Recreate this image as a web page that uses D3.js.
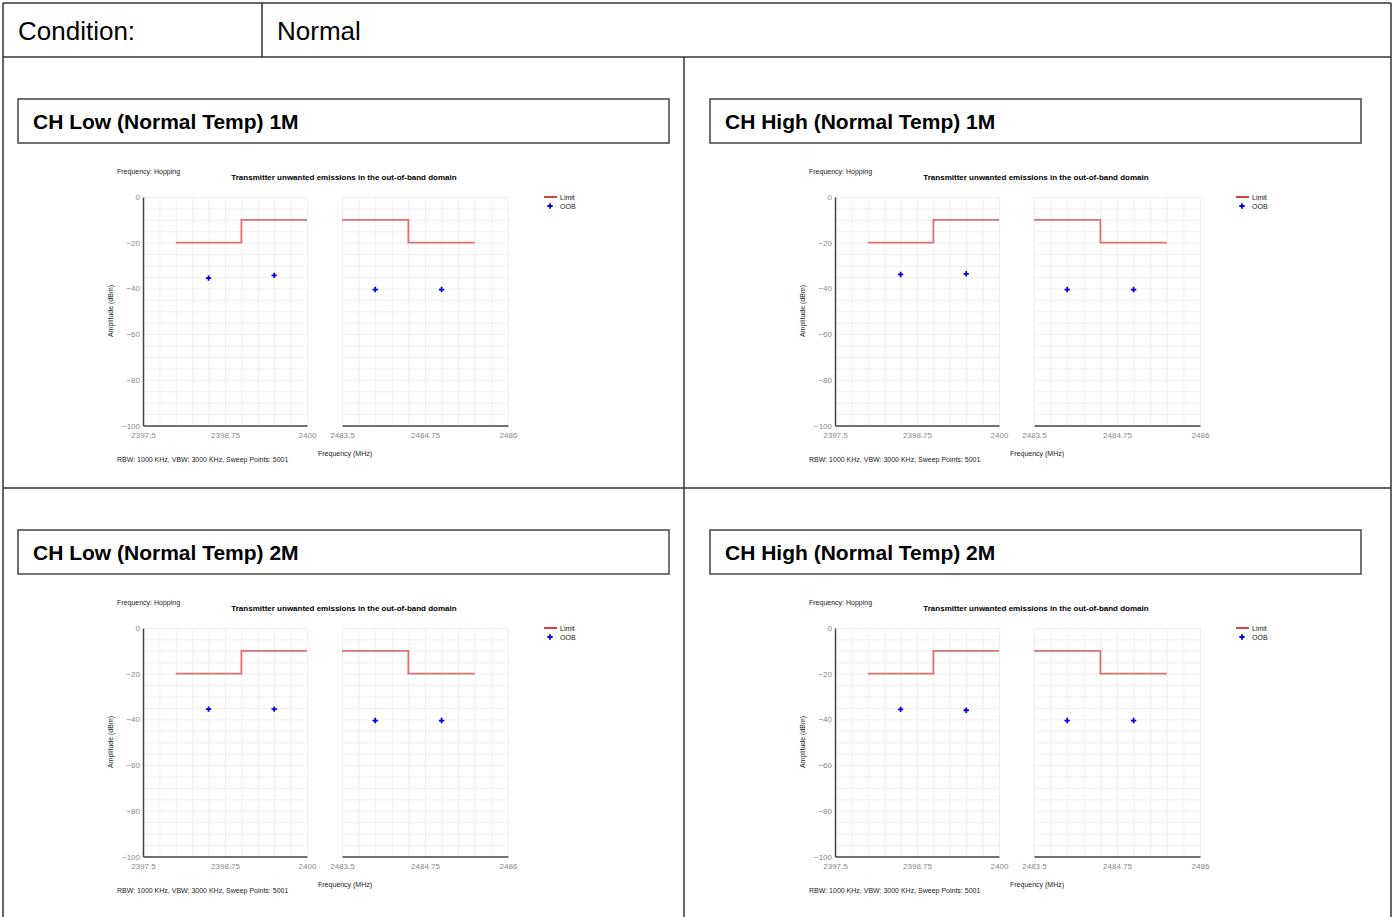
<!DOCTYPE html>
<html lang="en">
<head>
<meta charset="utf-8">
<script src="https://cdn.jsdelivr.net/npm/d3@7"></script>
<style>
    body { margin: 0; background: #fff; }
    text { font-family: "Liberation Sans", Arial, sans-serif; }
</style>
</head>
<body>
<script type="text/javascript">

    var svgWidth = 1394;
    var svgHeight = 917;

    /* data */
    var panelTitles = ["CH Low (Normal Temp) 1M", "CH High (Normal Temp) 1M",
                       "CH Low (Normal Temp) 2M", "CH High (Normal Temp) 2M"];
    var leftTicks = [2397.5, 2398.75, 2400];
    var rightTicks = [2483.5, 2484.75, 2486];
    var yTicks = [0, -20, -40, -60, -80, -100];
    var limitLeft = [[2398, -20], [2399, -10], [2400, -10]];
    var limitRight = [[2483.5, -10], [2484.5, -20], [2485.5, -20]];
    var oobFreq = [2398.5, 2399.5, 2484.0, 2485.0];
    var oobLow1M = [-35.5, -34.3, -40.5, -40.5];
    var oobHigh1M = [-33.9, -33.6, -40.5, -40.5];
    var oobLow2M = [-35.5, -35.5, -40.5, -40.5];
    var oobHigh2M = [-35.6, -36.0, -40.5, -40.5];
    var oobSets = [oobLow1M, oobHigh1M, oobLow2M, oobHigh2M];

    var svg = d3.select("body").append("svg")
            .attr("width", svgWidth)
            .attr("height", svgHeight);

    /* table frame */
    var frame = svg.append("g").attr("stroke", "#333").attr("stroke-width", 1.5);
    var frameLines = [
        [3, 3, 1391, 3], [3, 3, 3, 917], [1391, 3, 1391, 917],
        [3, 57, 1391, 57], [262, 3, 262, 57], [684, 57, 684, 917], [3, 488, 1391, 488]
    ];
    frame.selectAll("line").data(frameLines).enter().append("line")
            .attr("x1", function(d) { return d[0]; })
            .attr("y1", function(d) { return d[1]; })
            .attr("x2", function(d) { return d[2]; })
            .attr("y2", function(d) { return d[3]; });

    svg.append("text").attr("x", 18).attr("y", 40).style("font-size", "26px").text("Condition:");
    svg.append("text").attr("x", 277).attr("y", 40).style("font-size", "26px").text("Normal");

    var offsets = [[0, 0], [692, 0], [0, 431], [692, 431]];

    offsets.forEach(function(o, i) {
        var p = svg.append("g").attr("transform", "translate(" + o[0] + "," + o[1] + ")");

        /* title box */
        p.append("rect")
                .attr("x", 18).attr("y", 99).attr("width", 651).attr("height", 44)
                .style("fill", "none").style("stroke", "#444").style("stroke-width", 1.5);
        p.append("text").attr("x", 33).attr("y", 129)
                .style("font-size", "21px").style("font-weight", "bold")
                .text(panelTitles[i]);

        /* scales */
        var y = d3.scaleLinear().domain([-100, 0]).range([425.5, 197]);
        var xL = d3.scaleLinear().domain([2397.5, 2400]).range([143, 307]);
        var xR = d3.scaleLinear().domain([2483.5, 2486]).range([342, 508]);

        /* grid */
        [xL, xR].forEach(function(x) {
            var r = x.range();
            p.append("g")
                    .attr("transform", "translate(0," + y(-100) + ")")
                    .call(d3.axisBottom(x).tickValues(d3.range(0, 11).map(function(k) { return x.domain()[0] + k * 0.25; }))
                            .tickSize(-(y(-100) - y(0))).tickFormat(""))
                    .call(function(g) {
                        g.select(".domain").remove();
                        g.selectAll("line").style("stroke", "#f0f0f0");
                    });
            p.append("g")
                    .attr("transform", "translate(" + r[0] + ",0)")
                    .call(d3.axisLeft(y).tickValues(d3.range(-100, 1, 5))
                            .tickSize(-(r[1] - r[0])).tickFormat(""))
                    .call(function(g) {
                        g.select(".domain").remove();
                        g.selectAll("line").style("stroke", "#f0f0f0");
                    });
        });

        /* axes */
        var yAxis = p.append("g")
                .attr("transform", "translate(143,0)")
                .call(d3.axisLeft(y).tickValues(yTicks).tickSize(0).tickPadding(3));
        yAxis.select(".domain").style("stroke", "#444").style("stroke-width", 1.5);
        yAxis.selectAll("text").style("fill", "#888").style("font-size", "8px")
                .style("font-family", "Liberation Sans, Arial, sans-serif");

        [[xL, leftTicks], [xR, rightTicks]].forEach(function(a) {
            var ax = p.append("g")
                    .attr("transform", "translate(0," + y(-100) + ")")
                    .call(d3.axisBottom(a[0]).tickValues(a[1]).tickSize(0).tickPadding(7)
                            .tickFormat(function(d) { return d; }));
            ax.select(".domain").style("stroke", "#444").style("stroke-width", 1.5);
            ax.selectAll("text").style("fill", "#888").style("font-size", "8px")
                    .style("font-family", "Liberation Sans, Arial, sans-serif");
        });

        /* limit lines */
        [[xL, limitLeft], [xR, limitRight]].forEach(function(a) {
            var line = d3.line()
                    .x(function(d) { return a[0](d[0]); })
                    .y(function(d) { return y(d[1]); })
                    .curve(d3.curveStepAfter);
            p.append("path").datum(a[1])
                    .attr("d", line)
                    .style("fill", "none").style("stroke", "#e07070").style("stroke-width", 1.8);
        });

        /* OOB points */
        var sym = d3.symbol().type(d3.symbolCross).size(16);
        p.selectAll(".oob").data(oobSets[i]).enter().append("path")
                .attr("class", "oob")
                .attr("transform", function(d, k) {
                    var f = oobFreq[k];
                    var x = f < 2450 ? xL(f) : xR(f);
                    return "translate(" + x + "," + y(d) + ")";
                })
                .attr("d", sym)
                .style("fill", "#0000ee");

        /* texts */
        p.append("text").attr("x", 117).attr("y", 174).style("font-size", "7px").style("fill", "#222")
                .text("Frequency: Hopping");
        p.append("text").attr("x", 344).attr("y", 180).attr("text-anchor", "middle")
                .style("font-size", "8px").style("font-weight", "bold")
                .text("Transmitter unwanted emissions in the out-of-band domain");
        p.append("text").attr("transform", "translate(113,311) rotate(-90)")
                .attr("text-anchor", "middle").style("font-size", "7px").style("fill", "#222")
                .text("Amplitude (dBm)");
        p.append("text").attr("x", 318).attr("y", 456).style("font-size", "7px").style("fill", "#222")
                .text("Frequency (MHz)");
        p.append("text").attr("x", 117).attr("y", 462).style("font-size", "7px").style("fill", "#222")
                .text("RBW: 1000 KHz,  VBW: 3000 KHz,  Sweep Points: 5001");

        /* legend */
        p.append("line").attr("x1", 544).attr("x2", 557).attr("y1", 197).attr("y2", 197)
                .style("stroke", "#d42a2a").style("stroke-width", 1.8);
        p.append("text").attr("x", 560).attr("y", 200).style("font-size", "7px").style("fill", "#222").text("Limit");
        p.append("path").attr("transform", "translate(550,206)").attr("d", sym).style("fill", "#0000ee");
        p.append("text").attr("x", 560).attr("y", 209).style("font-size", "7px").style("fill", "#222").text("OOB");
    });

</script>
</body>
</html>
